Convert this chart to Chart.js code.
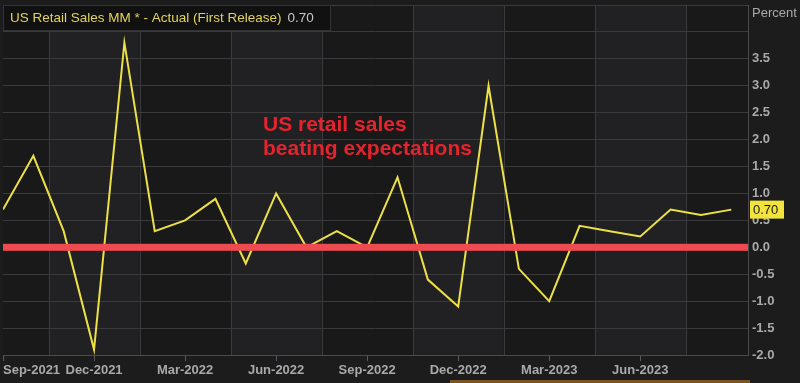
<!DOCTYPE html>
<html>
<head>
<meta charset="utf-8">
<script src="https://cdn.jsdelivr.net/npm/chart.js@4.4.0/dist/chart.umd.min.js"></script>
<style>
    html, body { margin: 0; padding: 0; background: #1c1c1d; }
    #wrap { width: 800px; height: 383px; position: relative; }
</style>
</head>
<body>
<div id="wrap"><canvas id="salesChart"></canvas></div>
<script>
// Monthly retail sales, first release (% m/m)
const months = ["Sep-2021", "Oct-2021", "Nov-2021", "Dec-2021", "Jan-2022", "Feb-2022", "Mar-2022",
    "Apr-2022", "May-2022", "Jun-2022", "Jul-2022", "Aug-2022", "Sep-2022", "Oct-2022", "Nov-2022",
    "Dec-2022", "Jan-2023", "Feb-2023", "Mar-2023", "Apr-2023", "May-2023", "Jun-2023", "Jul-2023",
    "Aug-2023", "Sep-2023"];
const salesValues = [0.7, 1.7, 0.3, -1.9, 3.8, 0.3, 0.5, 0.9, -0.3, 1.0, 0.0, 0.3, 0.0, 1.3, -0.6,
    -1.1, 3.0, -0.4, -1.0, 0.4, 0.3, 0.2, 0.7, 0.6, 0.7];
const tickMonths = [0, 3, 6, 9, 12, 15, 18, 21, 24];
const yTicks = [-2.0, -1.5, -1.0, -0.5, 0.0, 0.5, 1.0, 1.5, 2.0, 2.5, 3.0, 3.5, 4.0, 4.5];

const titleText = "US Retail Sales MM * - Actual (First Release)";
const lastLabel = salesValues[salesValues.length - 1].toFixed(2);
const tickFont = { family: "'Liberation Sans', Arial, sans-serif", size: 13, weight: "bold" };

// background bands, vertical grid, zero line and labels
const decorPlugin = {
    id: "decor",
    beforeDraw(chart) {
        const { ctx, chartArea: a, scales: { x } } = chart;
        ctx.save();
        ctx.fillStyle = "#19191a";
        ctx.fillRect(a.left, a.top, a.right - a.left, a.bottom - a.top);
        ctx.fillStyle = "#212123";
        for (let m = 1.5; m < x.max; m += 6) {
            const x1 = x.getPixelForValue(m);
            const x2 = Math.min(x.getPixelForValue(m + 3), a.right);
            ctx.fillRect(x1, a.top, x2 - x1, a.bottom - a.top);
        }
        ctx.restore();
    },
    beforeDatasetsDraw(chart) {
        const { ctx, chartArea: a, scales: { x } } = chart;
        ctx.save();
        ctx.strokeStyle = "#3a3a3c";
        ctx.lineWidth = 1;
        for (let m = 1.5; m < x.max; m += 3) {
            const px = Math.round(x.getPixelForValue(m)) + 0.5;
            ctx.beginPath();
            ctx.moveTo(px, a.top);
            ctx.lineTo(px, a.bottom);
            ctx.stroke();
        }
        ctx.restore();
    },
    afterDatasetsDraw(chart) {
        const { ctx, chartArea: a, scales: { y } } = chart;
        ctx.save();
        // zero line
        const y0 = y.getPixelForValue(0);
        ctx.fillStyle = "#ee4a50";
        ctx.fillRect(a.left, y0 - 3.5, a.right - a.left, 7);

        // annotation
        ctx.fillStyle = "#e5232d";
        ctx.font = "bold 21px 'Liberation Sans', Arial, sans-serif";
        ctx.textBaseline = "alphabetic";
        ctx.fillText("US retail sales", 263, 131);
        ctx.fillText("beating expectations", 263, 155);

        // title box
        ctx.fillStyle = "#111112";
        ctx.fillRect(3, 5, 327, 25);
        ctx.strokeStyle = "#333335";
        ctx.strokeRect(3.5, 5.5, 327, 25);
        ctx.font = "13.5px 'Liberation Sans', Arial, sans-serif";
        ctx.textBaseline = "middle";
        ctx.fillStyle = "#e3d35a";
        ctx.fillText(titleText, 10, 18);
        const w = ctx.measureText(titleText).width;
        ctx.fillStyle = "#c9c9cb";
        ctx.fillText(lastLabel, 10 + w + 6, 18);

        // unit label
        ctx.font = "13px 'Liberation Sans', Arial, sans-serif";
        ctx.fillStyle = "#a9a9ab";
        ctx.fillText("Percent", 752, 13);

        // last value tag
        const yl = y.getPixelForValue(salesValues[salesValues.length - 1]);
        ctx.fillStyle = "#f2e43a";
        ctx.fillRect(750, yl - 9, 34, 18);
        ctx.fillStyle = "#1a1a1a";
        ctx.font = "13px 'Liberation Sans', Arial, sans-serif";
        ctx.fillText(lastLabel, 753, yl + 1);

        // scroll bar at the bottom
        ctx.fillStyle = "#7a5422";
        ctx.fillRect(450, 380, 300, 3);
        ctx.restore();
    }
};

new Chart(document.getElementById("salesChart"), {
    type: "line",
    data: {
        datasets: [{
            data: salesValues.map((v, i) => ({ x: i, y: v })),
            borderColor: "#ece046",
            borderWidth: 2,
            pointRadius: 0,
            tension: 0
        }]
    },
    options: {
        responsive: true,
        maintainAspectRatio: false,
        animation: false,
        layout: { padding: { left: 3, top: 5, right: 0, bottom: 0 } },
        plugins: { legend: { display: false }, tooltip: { enabled: false } },
        scales: {
            x: {
                type: "linear",
                min: 0,
                max: 24.55,
                afterBuildTicks: scale => { scale.ticks = tickMonths.map(v => ({ value: v })); },
                afterFit: scale => { scale.height = 28; },
                ticks: {
                    autoSkip: false,
                    maxRotation: 0,
                    align: "inner",
                    padding: 2,
                    color: "#a9a9ab",
                    font: tickFont,
                    callback: v => (v === tickMonths[tickMonths.length - 1] ? "" : months[v])
                },
                grid: {
                    drawOnChartArea: false,
                    tickLength: 6,
                    tickColor: ctx => (ctx.index === tickMonths.length - 1 ? "rgba(0,0,0,0)" : "#5a5a5c")
                },
                border: { display: true, color: "#4a4a4c" }
            },
            y: {
                position: "right",
                min: -2,
                max: 4.5,
                afterBuildTicks: scale => { scale.ticks = yTicks.map(v => ({ value: v })); },
                afterFit: scale => { scale.width = 52; },
                ticks: {
                    padding: 4,
                    color: "#a9a9ab",
                    font: ctx => (ctx.tick && ctx.tick.value > 3.5 ? { size: 1 } : tickFont),
                    callback: v => (v > 3.5 ? "" : v.toFixed(1))
                },
                grid: { color: "#3a3a3c", drawTicks: false },
                border: { display: true, color: "#4a4a4c" }
            }
        }
    },
    plugins: [decorPlugin]
});
</script>
</body>
</html>
